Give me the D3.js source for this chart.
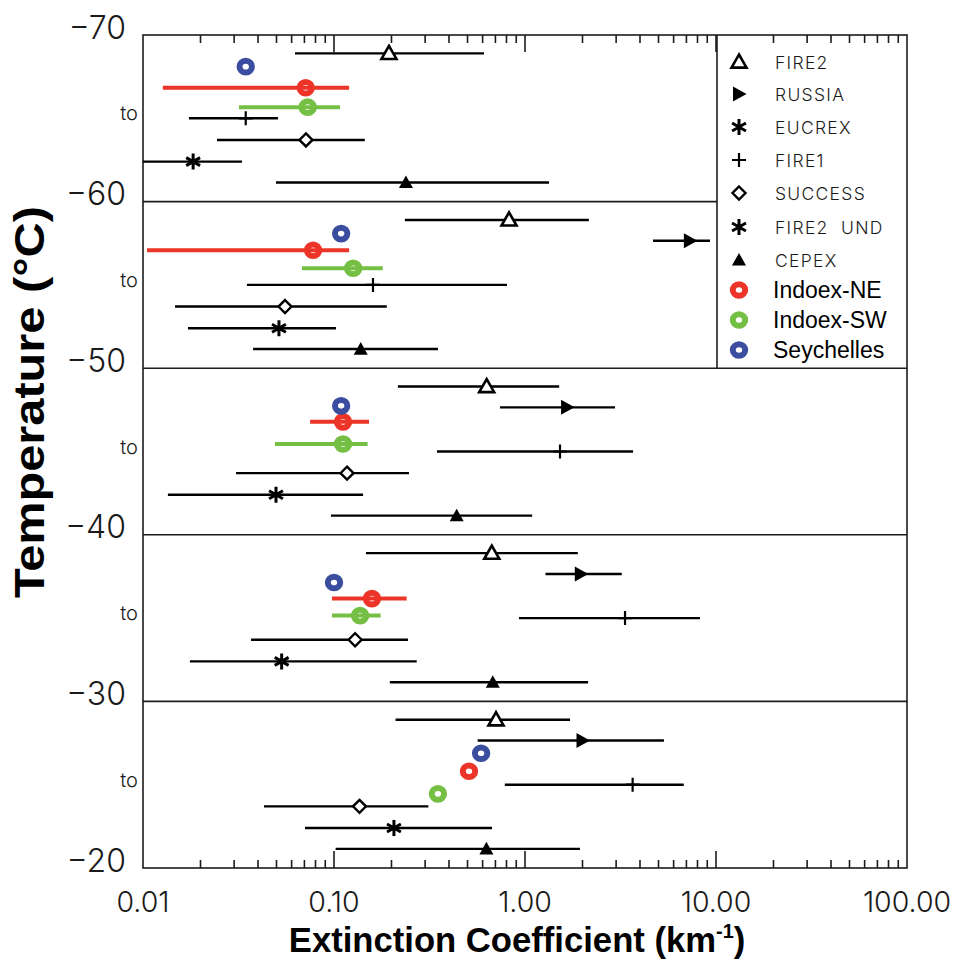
<!DOCTYPE html>
<html>
<head>
<meta charset="utf-8">
<script src="https://cdn.jsdelivr.net/npm/d3@7"></script>
<style>
  html, body { margin: 0; padding: 0; background: #fff; }
  svg { display: block; }
  .thin { font-family: "Inter", "Open Sans", "Liberation Sans", sans-serif; font-weight: 300; fill: #1a1a1a; }
  .arial { font-family: "Liberation Sans", Arial, sans-serif; fill: #000; }
</style>
</head>
<body>
<svg id="chart" width="962" height="961"></svg>
<script>
// Temperature bands (upper bound of each 10 °C band) and y-axis ticks
const bandTops = [-70, -60, -50, -40, -30];
const yTickValues = [-70, -60, -50, -40, -30, -20];
const xTickValues = [0.01, 0.1, 1, 10, 100];
const xTickLabels = ["0.01", "0.10", "1.00", "10.00", "100.00"];

// Aircraft campaigns: median extinction and range per band, row = depth (°C) inside the band
const fire2Mid = [0.194, 0.825, 0.63, 0.67, 0.705];
const fire2Lo  = [0.0625, 0.235, 0.216, 0.147, 0.21];
const fire2Hi  = [0.61, 2.16, 1.51, 1.89, 1.72];

const russiaMid = [null, 7.3, 1.66, 1.96, 2.0];
const russiaLo  = [null, 4.68, 0.74, 1.28, 0.565];
const russiaHi  = [null, 9.3, 2.96, 3.21, 5.34];

const eucrexMid = [null, null, null, null, null];
const eucrexLo  = [null, null, null, null, null];
const eucrexHi  = [null, null, null, null, null];

const fire1Mid = [0.0345, 0.16, 1.525, 3.34, 3.66];
const fire1Lo  = [0.0174, 0.035, 0.346, 0.93, 0.784];
const fire1Hi  = [0.0509, 0.805, 3.68, 8.24, 6.78];

const successMid = [0.0713, 0.0554, 0.117, 0.129, 0.136];
const successLo  = [0.0244, 0.0147, 0.0307, 0.0368, 0.043];
const successHi  = [0.145, 0.189, 0.247, 0.244, 0.312];

const fire2undMid = [0.0183, 0.0515, 0.0497, 0.0532, 0.206];
const fire2undLo  = [0.01, 0.0172, 0.0135, 0.0176, 0.0705];
const fire2undHi  = [0.033, 0.1024, 0.142, 0.271, 0.672];

const cepexMid = [0.238, 0.138, 0.439, 0.678, 0.628];
const cepexLo  = [0.0497, 0.0377, 0.0964, 0.196, 0.102];
const cepexHi  = [1.336, 0.35, 1.09, 2.14, 1.94];

const campaignRows = [1.1, 2.35, 3.6, 5.0, 6.3, 7.6, 8.85];

// INDOEX / Seychelles results: extinction, range and depth (°C) inside the band
const neMid = [0.0711, 0.0777, 0.1115, 0.158, 0.509];
const neLo  = [0.0127, 0.0105, 0.075, 0.0976, null];
const neHi  = [0.12, 0.12, 0.1525, 0.24, null];
const neRow = [3.17, 2.92, 3.22, 3.83, 4.19];

const swMid = [0.0728, 0.126, 0.1115, 0.137, 0.35];
const swLo  = [0.0318, 0.068, 0.0491, 0.0976, null];
const swHi  = [0.1075, 0.18, 0.15, 0.1755, null];
const swRow = [4.33, 4.0, 4.55, 4.85, 5.55];

const seyMid = [0.0345, 0.109, 0.109, 0.1, 0.589];
const seyRow = [1.9, 1.92, 2.26, 2.86, 3.11];

const campaignNames = ["FIRE2", "RUSSIA", "EUCREX", "FIRE1", "SUCCESS", "FIRE2  UND", "CEPEX"];
const campaignSymbols = ["triOpen", "triRight", "asterisk", "plus", "diamond", "asterisk", "triFilled"];
const ownNames = ["Indoex-NE", "Indoex-SW", "Seychelles"];
const ownColors = ["#ec3429", "#74bf44", "#3a4d9f"];

const campaigns = campaignNames.map((name, i) => ({
  name, symbol: campaignSymbols[i], row: campaignRows[i],
  mid: [fire2Mid, russiaMid, eucrexMid, fire1Mid, successMid, fire2undMid, cepexMid][i],
  lo:  [fire2Lo, russiaLo, eucrexLo, fire1Lo, successLo, fire2undLo, cepexLo][i],
  hi:  [fire2Hi, russiaHi, eucrexHi, fire1Hi, successHi, fire2undHi, cepexHi][i]
}));
const ownSeries = [
  { name: ownNames[0], color: ownColors[0], mid: neMid, lo: neLo, hi: neHi, row: neRow },
  { name: ownNames[1], color: ownColors[1], mid: swMid, lo: swLo, hi: swHi, row: swRow },
  { name: ownNames[2], color: ownColors[2], mid: seyMid, lo: seyMid.map(() => null), hi: seyMid.map(() => null), row: seyRow }
];

const svg = d3.select("#chart");
const plotLeft = 143, plotRight = 907, plotTop = 35, plotBottom = 868;
const legendLeft = 717;

const x = d3.scaleLog().domain([0.01, 100]).range([plotLeft, plotRight]);
const y = d3.scaleLinear().domain([-70, -20]).range([plotTop, plotBottom]);

const ink = "#1c1c1c";

// Marker shapes
function drawMarker(g, type, cx, cy) {
  const p = d3.path();
  if (type === "triOpen") {
    const s = 7.5;
    p.moveTo(cx, cy - s); p.lineTo(cx + s, cy + s * 0.75); p.lineTo(cx - s, cy + s * 0.75); p.closePath();
    g.append("path").attr("d", p.toString()).attr("fill", "#fff").attr("stroke", "#000").attr("stroke-width", 2.6);
  } else if (type === "triFilled") {
    const s = 7;
    p.moveTo(cx, cy - s); p.lineTo(cx + s, cy + s * 0.8); p.lineTo(cx - s, cy + s * 0.8); p.closePath();
    g.append("path").attr("d", p.toString()).attr("fill", "#000");
  } else if (type === "triRight") {
    const s = 7.5;
    p.moveTo(cx + s, cy); p.lineTo(cx - s * 0.8, cy - s); p.lineTo(cx - s * 0.8, cy + s); p.closePath();
    g.append("path").attr("d", p.toString()).attr("fill", "#000");
  } else if (type === "diamond") {
    const s = 6.5;
    p.moveTo(cx, cy - s); p.lineTo(cx + s, cy); p.lineTo(cx, cy + s); p.lineTo(cx - s, cy); p.closePath();
    g.append("path").attr("d", p.toString()).attr("fill", "#fff").attr("stroke", "#000").attr("stroke-width", 2.4);
  } else if (type === "asterisk") {
    const s = 8;
    for (const a of [90, 30, 150]) {
      const r = a * Math.PI / 180;
      p.moveTo(cx - s * Math.cos(r), cy - s * Math.sin(r));
      p.lineTo(cx + s * Math.cos(r), cy + s * Math.sin(r));
    }
    g.append("path").attr("d", p.toString()).attr("stroke", "#000").attr("stroke-width", 3).attr("fill", "none");
  } else if (type === "plus") {
    const s = 7;
    p.moveTo(cx, cy - s); p.lineTo(cx, cy + s);
    p.moveTo(cx - s, cy); p.lineTo(cx + s, cy);
    g.append("path").attr("d", p.toString()).attr("stroke", "#000").attr("stroke-width", 2.2).attr("fill", "none");
  }
}
function drawRing(g, cx, cy, color) {
  g.append("ellipse").attr("cx", cx).attr("cy", cy).attr("rx", 6.2).attr("ry", 5.8)
    .attr("fill", "none").attr("stroke", color).attr("stroke-width", 6);
}

// Frame and band separators
const frame = svg.append("g");
frame.append("rect").attr("x", plotLeft).attr("y", plotTop).attr("width", plotRight - plotLeft).attr("height", plotBottom - plotTop)
  .attr("fill", "none").attr("stroke", ink).attr("stroke-width", 1.6);
yTickValues.slice(1, -1).forEach(v => {
  const xr = v === -60 ? legendLeft : plotRight;
  frame.append("line").attr("x1", plotLeft).attr("x2", xr).attr("y1", y(v)).attr("y2", y(v))
    .attr("stroke", ink).attr("stroke-width", 1.6);
});
// Legend box (upper right, spanning the two coldest bands)
frame.append("line").attr("x1", legendLeft).attr("x2", legendLeft).attr("y1", y(-70)).attr("y2", y(-50))
  .attr("stroke", ink).attr("stroke-width", 1.6);

// Log ticks on top and bottom edges
const allTicks = x.ticks();
const isMajor = v => xTickValues.some(t => Math.abs(Math.log10(v) - Math.log10(t)) < 1e-6);
const tickG = svg.append("g").attr("stroke", ink).attr("stroke-width", 1.6);
allTicks.forEach(v => {
  if (v <= 0.0100001 || v >= 99.999) return;
  const len = isMajor(v) ? 17 : 8;
  tickG.append("line").attr("x1", x(v)).attr("x2", x(v)).attr("y1", plotTop).attr("y2", plotTop + len);
  tickG.append("line").attr("x1", x(v)).attr("x2", x(v)).attr("y1", plotBottom).attr("y2", plotBottom - len);
});

// X tick labels
svg.append("g").selectAll("text").data(xTickValues).join("text")
  .attr("class", "thin").attr("x", d => x(d)).attr("y", 912)
  .attr("text-anchor", "middle")
  .attr("font-size", 28.5).text((d, i) => xTickLabels[i]);

// Y tick labels (band limits)
svg.append("g").selectAll("text").data(yTickValues).join("text")
  .attr("class", "thin").attr("x", 126).attr("y", d => y(d) - 8)
  .attr("text-anchor", "end").attr("dominant-baseline", "central")
  .attr("font-size", 32).text(d => d3.format("d")(d));

// "to" between band limits
svg.append("g").selectAll("text").data(bandTops).join("text")
  .attr("class", "thin").attr("x", 129).attr("y", d => y(d + 5) - 5)
  .attr("text-anchor", "middle").attr("dominant-baseline", "central")
  .attr("font-size", 20).text("to");

// Campaign ranges and medians
const campG = svg.append("g");
campaigns.forEach(c => {
  bandTops.forEach((b, i) => {
    if (c.mid[i] == null) return;
    const cy = y(b + c.row);
    campG.append("line").attr("x1", x(c.lo[i])).attr("x2", x(c.hi[i])).attr("y1", cy).attr("y2", cy)
      .attr("stroke", "#000").attr("stroke-width", 2.4);
    drawMarker(campG, c.symbol, x(c.mid[i]), cy);
  });
});

// INDOEX and Seychelles ranges and medians
const ownG = svg.append("g");
ownSeries.forEach(s => {
  bandTops.forEach((b, i) => {
    const cy = y(b + s.row[i]);
    if (s.lo[i] != null) {
      ownG.append("line").attr("x1", x(s.lo[i])).attr("x2", x(s.hi[i])).attr("y1", cy).attr("y2", cy)
        .attr("stroke", s.color).attr("stroke-width", 4);
    }
  });
});
ownSeries.forEach(s => {
  bandTops.forEach((b, i) => drawRing(ownG, x(s.mid[i]), y(b + s.row[i]), s.color));
});

// Legend entries
const legG = svg.append("g");
const legX = 739, legTextX = 775;
const legRowsCamp = [62, 94, 127, 160, 193, 227, 260];
const legRowsOwn = [290, 320, 350];
campaigns.forEach((c, i) => {
  drawMarker(legG, c.symbol, legX, legRowsCamp[i]);
  legG.append("text").attr("class", "thin").attr("x", legTextX).attr("y", legRowsCamp[i])
    .attr("dominant-baseline", "central").attr("font-size", 17.5).attr("letter-spacing", 1.3)
    .style("white-space", "pre").text(c.name);
});
ownSeries.forEach((s, i) => {
  drawRing(legG, legX, legRowsOwn[i], s.color);
  legG.append("text").attr("class", "arial").attr("x", legTextX - 2).attr("y", legRowsOwn[i])
    .attr("dominant-baseline", "central").attr("font-size", 23).text(s.name);
});

// Axis titles
svg.append("text").attr("class", "arial").attr("font-weight", "bold").attr("font-size", 42)
  .attr("transform", "translate(44,402) rotate(-90)").attr("text-anchor", "middle")
  .attr("textLength", 392).attr("lengthAdjust", "spacingAndGlyphs")
  .text("Temperature (°C)");
const xt = svg.append("text").attr("class", "arial").attr("font-weight", "bold").attr("font-size", 35)
  .attr("transform", "translate(517,952) scale(0.99,1)").attr("text-anchor", "middle");
xt.append("tspan").text("Extinction Coefficient (km");
xt.append("tspan").attr("font-size", 20).attr("dy", -14).text("-1");
xt.append("tspan").attr("dy", 14).text(")");
</script>
</body>
</html>
